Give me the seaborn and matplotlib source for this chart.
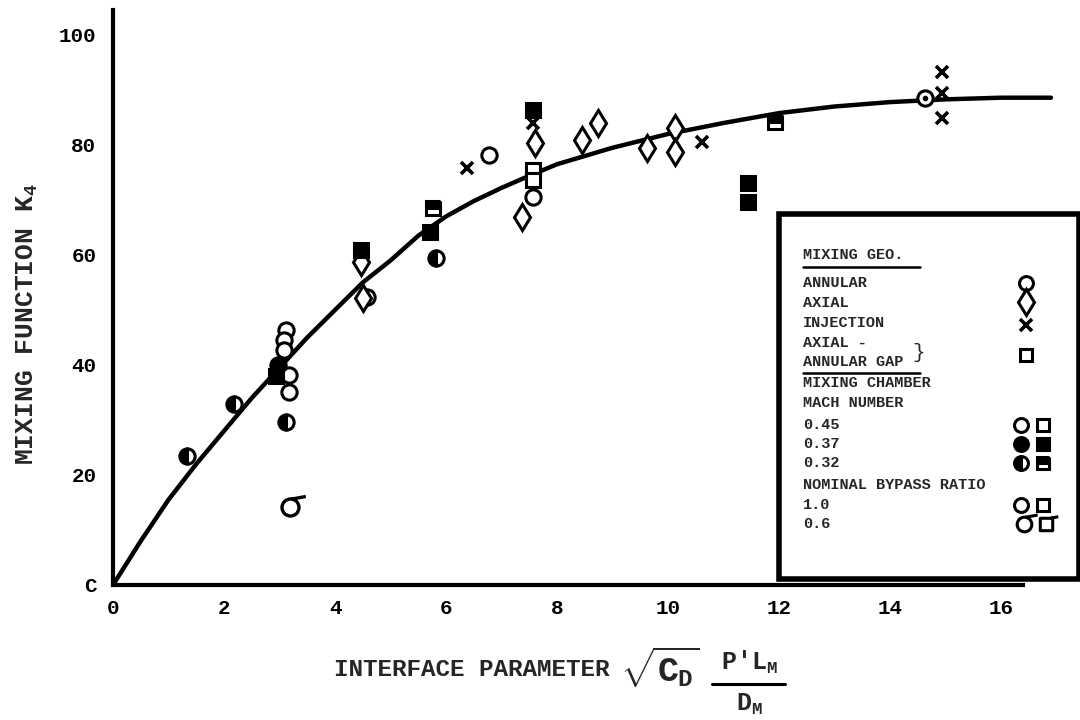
import matplotlib
matplotlib.use("Agg")
import matplotlib.pyplot as plt
import seaborn as sns
import pandas as pd
from matplotlib.lines import Line2D
from matplotlib.patches import Rectangle
from matplotlib.path import Path

# ---------------- data ----------------
curve_x = [0, 0.5, 1, 1.5, 2, 2.5, 3, 3.5, 4, 4.5, 5, 5.5, 6, 6.5, 7, 7.5, 8,
           9, 10, 11, 12, 13, 14, 15, 16, 16.9]
curve_y = [0, 8, 15.5, 22, 28, 34, 39.5, 45, 50, 55, 59, 63.5, 67, 69.8, 72.2,
           74.4, 76.5, 79.5, 82, 84, 85.8, 87, 87.8, 88.3, 88.6, 88.6]

# annular, M=0.45 (open circles)
circ_x = [3.12, 3.08, 3.08, 3.17, 3.17, 4.58, 6.78, 7.57]
circ_y = [46.4, 44.5, 42.7, 38.2, 35.1, 52.4, 78.2, 70.5]
# annular, M=0.32 (half-filled circles)
half_circ_x = [1.33, 2.18, 3.12, 5.82]
half_circ_y = [23.5, 32.9, 29.6, 59.4]
# annular, M=0.37 (filled circle)
fill_circ_x = [2.97]
fill_circ_y = [40.0]
# annular, bypass 0.6
sigma_x = [3.19]
sigma_y = [14.2]
# annular, dotted circle
dot_circ_x = [14.63]
dot_circ_y = [88.5]
# axial (open diamonds)
diam_x = [4.47, 4.50, 7.61, 7.37, 8.45, 8.74, 9.62, 10.13, 10.13]
diam_y = [58.7, 52.2, 80.4, 66.9, 80.9, 84.0, 79.5, 83.1, 78.7]
# injection (crosses)
cross_x = [6.38, 7.57, 10.61, 14.94, 14.94, 14.94]
cross_y = [75.8, 84.0, 80.5, 93.3, 89.4, 84.9]
# axial-annular gap, M=0.45 (open squares)
sq_x = [7.57, 7.57]
sq_y = [75.5, 73.6]
# axial-annular gap, M=0.37 (filled squares)
fill_sq_x = [2.93, 4.47, 5.71, 7.57, 11.44, 11.44]
fill_sq_y = [38.0, 60.9, 64.2, 86.4, 73.1, 69.6]
# axial-annular gap, M=0.32 (half-filled squares)
half_sq_x = [5.77, 11.93]
half_sq_y = [68.5, 84.2]

x_ticks = [0, 2, 4, 6, 8, 10, 12, 14, 16]
y_ticks = [0, 20, 40, 60, 80, 100]
y_tick_labels = ["C", "20", "40", "60", "80", "100"]

legend_lines = ["MIXING GEO.", "ANNULAR", "AXIAL", "INJECTION", "AXIAL -",
                "ANNULAR GAP", "MIXING CHAMBER", "MACH NUMBER", "0.45", "0.37",
                "0.32", "NOMINAL BYPASS RATIO", "1.0", "0.6"]

# ---------------- style ----------------
sns.set_theme(style="white")
FONT = ["Liberation Mono", "DejaVu Sans Mono", "DejaVu Sans"]
plt.rcParams["font.family"] = FONT
plt.rcParams["font.weight"] = "bold"
plt.rcParams["mathtext.fontset"] = "custom"
plt.rcParams["mathtext.rm"] = "Liberation Mono:bold"
plt.rcParams["mathtext.it"] = "Liberation Mono:bold"
plt.rcParams["mathtext.bf"] = "Liberation Mono:bold"

# custom markers: circle / square with a tail (bypass ratio 0.6)
sigma_path = Path.make_compound_path(
    Path.unit_circle(),
    Path([(0.15, 0.99), (1.8, 1.3)], [Path.MOVETO, Path.LINETO]))
sqtail_path = Path.make_compound_path(
    Path([(-1, -1), (1, -1), (1, 1), (-1, 1), (-1, -1)],
         [Path.MOVETO, Path.LINETO, Path.LINETO, Path.LINETO, Path.CLOSEPOLY]),
    Path([(0.6, 1), (1.9, 1.25)], [Path.MOVETO, Path.LINETO]))

fig = plt.figure(figsize=(10.8, 7.2), dpi=100)
ax = fig.add_axes([113 / 1080, 1 - 585 / 720, 943.5 / 1080, 577.5 / 720])
ax.set_xlim(0, 17)
ax.set_ylim(0, 105)

# curve
curve_df = pd.DataFrame({"x": curve_x, "y": curve_y})
sns.lineplot(data=curve_df, x="x", y="y", ax=ax, color="black", lw=3.2,
             sort=True, zorder=2)

K = "black"
W = "white"
mk = dict(linestyle="none", zorder=3)
ax.plot(circ_x, circ_y, marker="o", ms=11, mfc=W, mec=K, mew=2.2, **mk)
ax.plot(half_circ_x, half_circ_y, marker="o", ms=11, mfc=K, mfcalt=W,
        fillstyle="left", mec=K, mew=2.2, **mk)
ax.plot(fill_circ_x, fill_circ_y, marker="o", ms=11, mfc=K, mec=K, mew=2.2, **mk)
ax.plot(sigma_x, sigma_y, marker=sigma_path, ms=22, mfc="none", mec=K,
        mew=2.4, **mk)
ax.plot(dot_circ_x, dot_circ_y, marker="o", ms=11, mfc=W, mec=K, mew=2.2, **mk)
ax.plot(dot_circ_x, dot_circ_y, marker="o", ms=3, mfc=K, mec=K, **mk)
ax.plot(diam_x, diam_y, marker="d", ms=13, mfc=W, mec=K, mew=2.2, **mk)
ax.plot(cross_x, cross_y, marker="x", ms=9, mec=K, mew=2.6, **mk)
ax.plot(sq_x, sq_y, marker="s", ms=10, mfc=W, mec=K, mew=2.2, **mk)
ax.plot(fill_sq_x, fill_sq_y, marker="s", ms=10, mfc=K, mec=K, mew=2.2, **mk)
ax.plot(half_sq_x, half_sq_y, marker="s", ms=10, mfc=K, mfcalt=W,
        fillstyle="top", mec=K, mew=2.2, **mk)

# axes / spines
for s in ["top", "right"]:
    ax.spines[s].set_visible(False)
for s in ["left", "bottom"]:
    ax.spines[s].set_linewidth(3)
    ax.spines[s].set_color(K)
ax.spines["bottom"].set_bounds(0, 16.4)
ax.spines["left"].set_bounds(0, 104.5)

ax.set_xticks(x_ticks)
ax.set_xticklabels([str(v) for v in x_ticks])
ax.set_yticks(y_ticks)
ax.set_yticklabels(y_tick_labels)
ax.tick_params(axis="both", direction="in", length=7, width=2, colors=K,
               labelsize=15)
ax.tick_params(axis="x", pad=10)
ax.tick_params(axis="y", pad=12)
for lab in ax.get_xticklabels() + ax.get_yticklabels():
    lab.set_fontweight("bold")
ax.set_xlabel("")
ax.set_ylabel(r"MIXING FUNCTION K$_{\mathbf{4}}$", fontsize=19,
              fontweight="bold")
ax.yaxis.set_label_coords(-0.077, 0.452)

# ---------------- x-axis title ----------------
def fx(px):
    return px / 1080


def fy(py):
    return 1 - py / 720


fig.text(fx(610), fy(670), "INTERFACE PARAMETER", ha="right", va="center",
         fontsize=17.5, fontweight="bold", family=FONT)
fig.text(fx(620), fy(667), r"$\sqrt{C_D}$", ha="left", va="center",
         fontsize=25, family=FONT)
fig.text(fx(749), fy(662), r"P'L$_M$", ha="center", va="center",
         fontsize=18, fontweight="bold", family=FONT)
fig.text(fx(749), fy(704), r"D$_M$", ha="center", va="center",
         fontsize=18, fontweight="bold", family=FONT)
fig.add_artist(Line2D([fx(712), fx(785)], [fy(684), fy(684)],
                      transform=fig.transFigure, color=K, lw=2.2))

# ---------------- legend box ----------------
fig.add_artist(Rectangle((fx(779), fy(579)), fx(1079) - fx(779),
                         fy(214) - fy(579), transform=fig.transFigure,
                         fill=False, lw=4, ec=K, zorder=5))

line_y = [255, 283, 303, 323, 343, 362, 383, 403, 425, 444, 463, 485, 505, 524]
for txt, py in zip(legend_lines, line_y):
    fig.text(fx(803), fy(py), txt, ha="left", va="center", fontsize=11,
             fontweight="bold", family=FONT, zorder=6)

# underlines and brace
for (x0, x1, py) in [(803, 920, 267), (803, 920, 373)]:
    fig.add_artist(Line2D([fx(x0), fx(x1)], [fy(py), fy(py)],
                          transform=fig.transFigure, color=K, lw=1.8))
fig.text(fx(912), fy(352), "}", ha="left", va="center", fontsize=15,
         family=FONT, fontweight="normal")


def legmark(px, py, **kw):
    fig.add_artist(Line2D([fx(px)], [fy(py)], transform=fig.transFigure,
                          linestyle="none", zorder=6, **kw))


legmark(1026, 283, marker="o", ms=10, mfc=W, mec=K, mew=2.2)
legmark(1026, 302, marker="d", ms=13, mfc=W, mec=K, mew=2.2)
legmark(1026, 325, marker="x", ms=9, mec=K, mew=2.6)
legmark(1026, 355, marker="s", ms=9, mfc=W, mec=K, mew=2.2)
legmark(1021, 425, marker="o", ms=10, mfc=W, mec=K, mew=2.2)
legmark(1043, 425, marker="s", ms=9, mfc=W, mec=K, mew=2.2)
legmark(1021, 444, marker="o", ms=10, mfc=K, mec=K, mew=2.2)
legmark(1043, 444, marker="s", ms=9, mfc=K, mec=K, mew=2.2)
legmark(1021, 463, marker="o", ms=10, mfc=K, mfcalt=W, fillstyle="left",
        mec=K, mew=2.2)
legmark(1043, 463, marker="s", ms=9, mfc=K, mfcalt=W, fillstyle="top",
        mec=K, mew=2.2)
legmark(1021, 505, marker="o", ms=10, mfc=W, mec=K, mew=2.2)
legmark(1043, 505, marker="s", ms=9, mfc=W, mec=K, mew=2.2)
legmark(1024, 524, marker=sigma_path, ms=19, mfc="none", mec=K, mew=2.2)
legmark(1046, 524, marker=sqtail_path, ms=17, mfc="none", mec=K, mew=2.2)

fig.savefig("out.png", dpi=100, facecolor="white")
